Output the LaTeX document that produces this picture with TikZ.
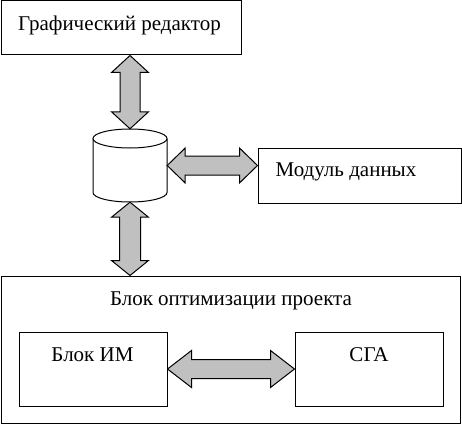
\documentclass[tikz,border=0pt]{standalone}
\usepackage{fontspec}
\setmainfont{Liberation Serif}
\usetikzlibrary{calc}
\definecolor{arrowgray}{RGB}{192,192,192}
\tikzset{
  box/.style={draw, line width=1pt, minimum width=#1, inner sep=0pt},
  lbl/.style={anchor=base, inner sep=0pt, font=\fontsize{21}{24}\selectfont},
  fat/.style={draw, fill=arrowgray, line width=1pt, line join=miter},
}
\newcommand\vfat[5]{\draw[fat] let \p1=(#1), \p2=(#2) in
  (\x1,\y1) -- (\x1+#3,\y1-#5) -- (\x1+#4,\y1-#5) -- (\x1+#4,\y2+#5) -- (\x1+#3,\y2+#5)
  -- (\x1,\y2) -- (\x1-#3,\y2+#5) -- (\x1-#4,\y2+#5) -- (\x1-#4,\y1-#5) -- (\x1-#3,\y1-#5) -- cycle;}
\newcommand\hfat[5]{\draw[fat] let \p1=(#1), \p2=(#2) in
  (\x1,\y1) -- (\x1+#5,\y1+#3) -- (\x1+#5,\y1+#4) -- (\x2-#5,\y1+#4) -- (\x2-#5,\y1+#3)
  -- (\x2,\y1) -- (\x2-#5,\y1-#3) -- (\x2-#5,\y1-#4) -- (\x1+#5,\y1-#4) -- (\x1+#5,\y1-#3) -- cycle;}
\begin{document}
\begin{tikzpicture}[x=1pt,y=-1pt]
\useasboundingbox (0,0) rectangle (462,425);
% boxes
\node[draw, line width=1pt, minimum width=240pt, minimum height=54pt, inner sep=0pt] (top) at (121,28) {};
\node[draw, line width=1pt, minimum width=203pt, minimum height=55pt, inner sep=0pt] (mod) at (359.5,175.5) {};
\node[draw, line width=1pt, minimum width=459pt, minimum height=147pt, inner sep=0pt] (big) at (231,349.5) {};
\node[draw, line width=1pt, minimum width=148pt, minimum height=74pt, inner sep=0pt] (im) at (93,369) {};
\node[draw, line width=1pt, minimum width=148pt, minimum height=74pt, inner sep=0pt] (sga) at (369,369) {};
% database cylinder
\node[minimum width=74pt, minimum height=73pt, inner sep=0pt] (db) at (130,165.5) {};
\draw[line width=1pt, fill=white] (93,138.5) -- (93,192.5) arc[start angle=180, end angle=360, x radius=37pt, y radius=9.5pt] -- (167,138.5);
\draw[line width=1pt, fill=white] (130,138.5) ellipse[x radius=37pt, y radius=9.5pt];
% labels
\node[lbl] (ttop) at (119.5,31) {Графический редактор};
\node[lbl] (tmod) at (346,176) {Модуль данных};
\node[lbl] (tbig) at (231,305) {Блок оптимизации проекта};
\node[lbl] (tim) at (92.5,361) {Блок ИМ};
\node[lbl] (tsga) at (369,361) {СГА};
% arrows
\vfat{top.south -| db.north}{db.north}{18.5pt}{10pt}{17pt}
\hfat{db.east}{db.east -| mod.west}{17.5pt}{9.5pt}{18pt}
\vfat{db.south}{db.south |- big.north}{18.5pt}{10.5pt}{15pt}
\hfat{im.east}{sga.west}{18.5pt}{9.5pt}{24pt}
\end{tikzpicture}
\end{document}
